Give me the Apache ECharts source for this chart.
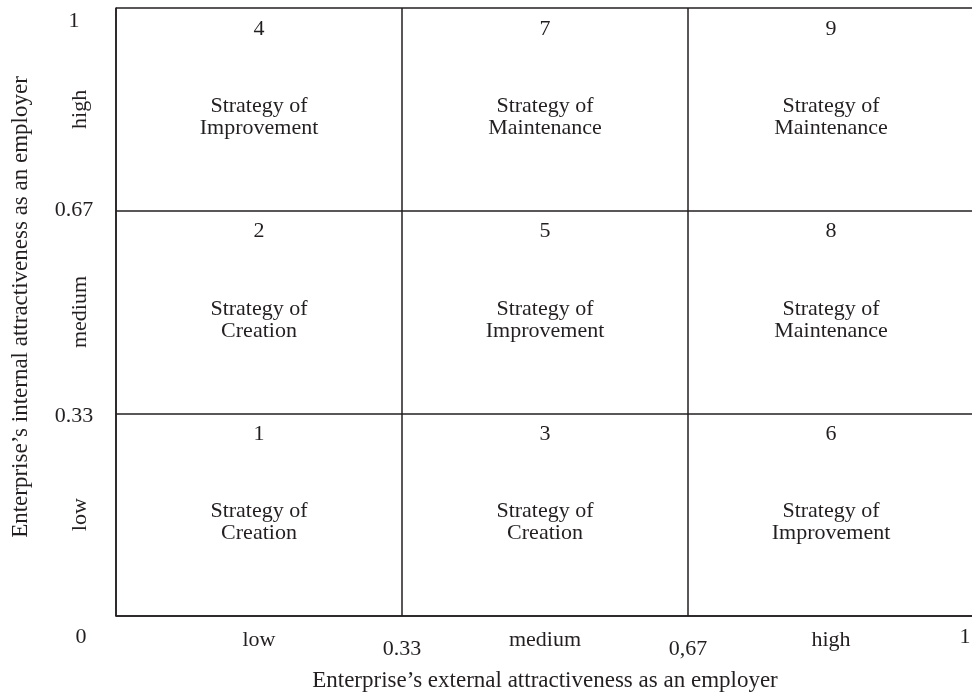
<!DOCTYPE html>
<html>
<head>
<meta charset="utf-8">
<title>Employer attractiveness strategy matrix</title>
<script src="https://cdn.jsdelivr.net/npm/echarts@6/dist/echarts.min.js"></script>
<style>
  html, body { margin: 0; padding: 0; background: #fff; }
  #chart { width: 972px; height: 695px; }
</style>
</head>
<body>
<div id="chart"></div>
<script>
// level names along each axis (low -> high)
const xLevels = ['low', 'medium', 'high']
const yLevels = ['low', 'medium', 'high']
// boundary tick labels (0 -> 1)
const xBounds = ['0', '0.33', '0,67', '1']
const yBounds = ['0', '0.33', '0.67', '1']
// cell numbers, rows from bottom (low) to top (high), columns low -> high
const cellNumbers = [
  [1, 3, 6],
  [2, 5, 8],
  [4, 7, 9]
]
// strategy of each cell, same layout
const cellStrategies = [
  ['Creation', 'Creation', 'Improvement'],
  ['Creation', 'Improvement', 'Maintenance'],
  ['Improvement', 'Maintenance', 'Maintenance']
]
const xTitle = 'Enterprise’s external attractiveness as an employer'
const yTitle = 'Enterprise’s internal attractiveness as an employer'

const FONT = 'Liberation Serif'
const INK = '#231f20'
const SIZE = 22

const chart = echarts.init(document.getElementById('chart'))

// points for the labels of each cell
const numberPoints = []
const strategyPoints = []
cellNumbers.forEach((row, r) => {
  row.forEach((n, c) => {
    numberPoints.push([c + 0.5, r + 1, String(n)])
    strategyPoints.push([c + 0.5, r + 0.5, 'Strategy of\n' + cellStrategies[r][c]])
  })
})

const txt = { fontFamily: FONT, fontSize: SIZE, color: INK }
const gridLine = { show: true, lineStyle: { color: INK, width: 1.5 } }

chart.setOption({
  animation: false,
  grid: {
    left: 116,
    top: 8,
    right: -2,
    bottom: 79,
    outerBoundsMode: 'none'
  },
  xAxis: [
    {
      // level names in the middle of each column
      type: 'value',
      min: 0,
      max: 3,
      interval: 0.5,
      position: 'bottom',
      axisLine: gridLine,
      axisTick: { show: false },
      splitLine: { show: false },
      axisLabel: {
        ...txt,
        margin: 13,
        showMinLabel: true,
        showMaxLabel: true,
        formatter: (v) => (Math.abs(v % 1 - 0.5) < 1e-6 ? xLevels[Math.floor(v)] : '')
      },
      name: xTitle,
      nameLocation: 'middle',
      nameGap: 53,
      nameTextStyle: { ...txt, fontSize: 23 }
    },
    {
      // boundary values
      type: 'value',
      min: 0,
      max: 3,
      interval: 1,
      position: 'bottom',
      axisLine: { show: false },
      axisTick: { show: false },
      splitLine: gridLine,
      axisLabel: {
        ...txt,
        margin: 10,
        showMinLabel: true,
        showMaxLabel: true,
        formatter: (v) => {
          const i = Math.round(v)
          if (i === 0) return '{first|' + xBounds[i] + '}'
          if (i === 3) return '{last|' + xBounds[i] + '}'
          return '{mid|' + xBounds[i] + '}'
        },
        rich: {
          first: { ...txt, padding: [0, 70, 0, 0] },
          last: { ...txt, padding: [0, 18, 0, 0] },
          mid: { ...txt, padding: [12, 0, 0, 0] }
        }
      }
    }
  ],
  yAxis: [
    {
      type: 'value',
      min: 0,
      max: 3,
      interval: 0.5,
      position: 'left',
      axisLine: gridLine,
      axisTick: { show: false },
      splitLine: { show: false },
      axisLabel: {
        ...txt,
        rotate: 90,
        margin: 25,
        showMinLabel: true,
        showMaxLabel: true,
        formatter: (v) => (Math.abs(v % 1 - 0.5) < 1e-6 ? yLevels[Math.floor(v)] : '')
      },
      name: yTitle,
      nameLocation: 'middle',
      nameGap: 84,
      nameTextStyle: { ...txt, fontSize: 23, padding: [0, 0, 0, 10] }
    },
    {
      type: 'value',
      min: 0,
      max: 3,
      interval: 1,
      position: 'left',
      axisLine: { show: false },
      axisTick: { show: false },
      splitLine: gridLine,
      axisLabel: {
        ...txt,
        align: 'center',
        margin: 42,
        showMinLabel: true,
        showMaxLabel: true,
        formatter: (v) => {
          const i = Math.round(v)
          if (i === 0) return ''
          if (i === 3) return '{top|' + yBounds[i] + '}'
          if (i === 1) return '{low|' + yBounds[i] + '}'
          return yBounds[i]
        },
        rich: {
          top: { ...txt, padding: [26, 0, 0, 0] },
          low: { ...txt, padding: [6, 0, 0, 0] }
        }
      }
    }
  ],
  series: [
    {
      type: 'scatter',
      silent: true,
      symbolSize: 0,
      itemStyle: { opacity: 1 },
      data: numberPoints,
      label: {
        show: true,
        ...txt,
        position: 'bottom',
        distance: 10,
        formatter: (p) => p.value[2]
      }
    },
    {
      type: 'scatter',
      silent: true,
      symbolSize: 0,
      itemStyle: { opacity: 1 },
      data: strategyPoints,
      label: {
        show: true,
        ...txt,
        lineHeight: 22,
        position: 'inside',
        offset: [0, 8],
        formatter: (p) => p.value[2]
      }
    }
  ]
})
</script>
</body>
</html>
